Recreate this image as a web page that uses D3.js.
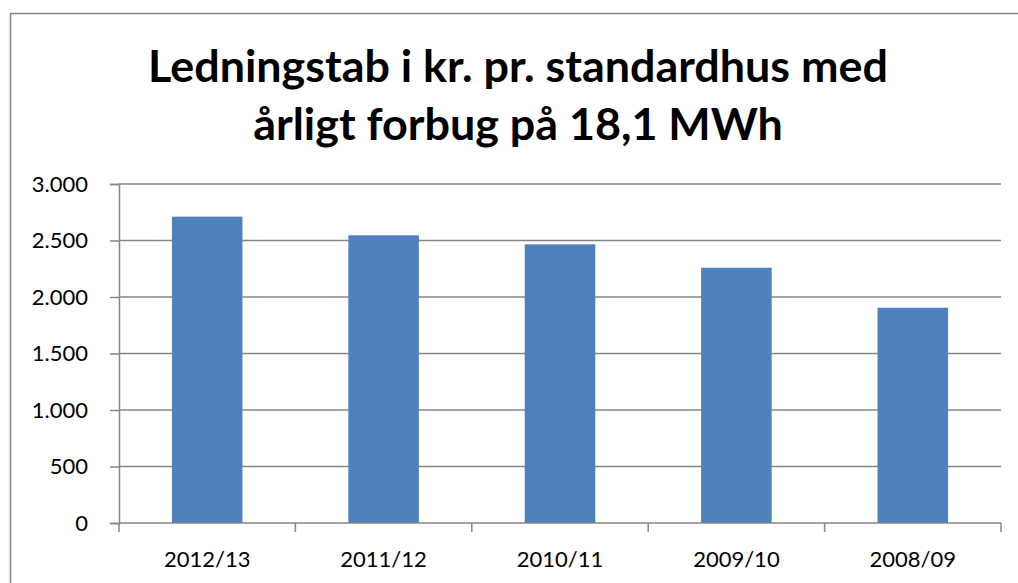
<!DOCTYPE html>
<html>
<head>
<meta charset="utf-8">
<script src="https://cdn.jsdelivr.net/npm/d3@7"></script>
<style>
  body { margin: 0; background: #fff; }
  text { font-family: Lato, "Open Sans", sans-serif; fill: #000; }
</style>
</head>
<body>
<svg class="chart" width="1018" height="583"></svg>
<script>
var periods = ["2012/13", "2011/12", "2010/11", "2009/10", "2008/09"];
var values = [2711, 2546, 2466, 2259, 1905];
var yTicks = [0, 500, 1000, 1500, 2000, 2500, 3000];
var titleLines = ["Ledningstab i kr. pr. standardhus med", "årligt forbug på 18,1 MWh"];

var svg = d3.select(".chart"),
    plotLeft = 119, plotRight = 1001, plotTop = 184, plotBottom = 523,
    grey = "#868686";

// outer frame of the chart
svg.append("rect")
    .attr("x", 10.5).attr("y", 13.5)
    .attr("width", 1040).attr("height", 620)
    .attr("fill", "none")
    .attr("stroke", grey)
    .attr("stroke-width", 1.5);

var x = d3.scaleBand()
    .domain(periods)
    .range([plotLeft, plotRight])
    .paddingInner(0.6)
    .paddingOuter(0.3);

var y = d3.scaleLinear()
    .domain([0, 3000])
    .range([plotBottom, plotTop]);

var fmt = function(d) { return d3.format(",")(d).replace(/,/g, "."); };

// gridlines
svg.append("g").selectAll("line")
    .data(yTicks.filter(function(d) { return d > 0; }))
    .enter().append("line")
      .attr("x1", plotLeft).attr("x2", plotRight)
      .attr("y1", function(d) { return y(d); })
      .attr("y2", function(d) { return y(d); })
      .attr("stroke", grey)
      .attr("stroke-width", 1.5);

// bars
svg.append("g").selectAll("rect")
    .data(values)
    .enter().append("rect")
      .attr("x", function(d, i) { return x(periods[i]); })
      .attr("y", function(d) { return y(d); })
      .attr("width", x.bandwidth())
      .attr("height", function(d) { return plotBottom - y(d); })
      .attr("fill", "#4f81bd");

// y axis
var yAxis = svg.append("g")
    .attr("transform", "translate(" + plotLeft + ",0)")
    .call(d3.axisLeft(y).tickValues(yTicks).tickFormat(fmt).tickSize(9).tickPadding(22));
yAxis.select(".domain").attr("stroke", grey).attr("stroke-width", 1.5);
yAxis.selectAll(".tick line").attr("stroke", grey).attr("stroke-width", 1.5);
yAxis.selectAll("text").style("font-size", "22px").attr("fill", "#000");

// x axis: ticks sit on the category boundaries
var boundaries = d3.range(periods.length + 1).map(function(i) {
  return plotLeft + i * (plotRight - plotLeft) / periods.length;
});
var xg = svg.append("g");
xg.append("line")
    .attr("x1", plotLeft).attr("x2", plotRight)
    .attr("y1", plotBottom).attr("y2", plotBottom)
    .attr("stroke", grey).attr("stroke-width", 1.5);
xg.selectAll(".bt")
    .data(boundaries)
    .enter().append("line")
      .attr("class", "bt")
      .attr("x1", function(d) { return d; }).attr("x2", function(d) { return d; })
      .attr("y1", plotBottom).attr("y2", plotBottom + 9)
      .attr("stroke", grey).attr("stroke-width", 1.5);
xg.selectAll("text")
    .data(periods)
    .enter().append("text")
      .attr("x", function(d) { return x(d) + x.bandwidth() / 2; })
      .attr("y", 567)
      .attr("text-anchor", "middle")
      .style("font-size", "22px")
      .text(function(d) { return d; });

// title, sized to the width of the original
var title = svg.append("g");
title.selectAll("text")
    .data(titleLines)
    .enter().append("text")
      .attr("x", 518)
      .attr("y", function(d, i) { return 82 + i * 58; })
      .attr("text-anchor", "middle")
      .style("font-weight", "bold")
      .style("font-size", "40px")
      .text(function(d) { return d; });
var w = title.select("text").node().getComputedTextLength();
title.selectAll("text").style("font-size", (40 * 740 / w) + "px");
</script>
</body>
</html>
